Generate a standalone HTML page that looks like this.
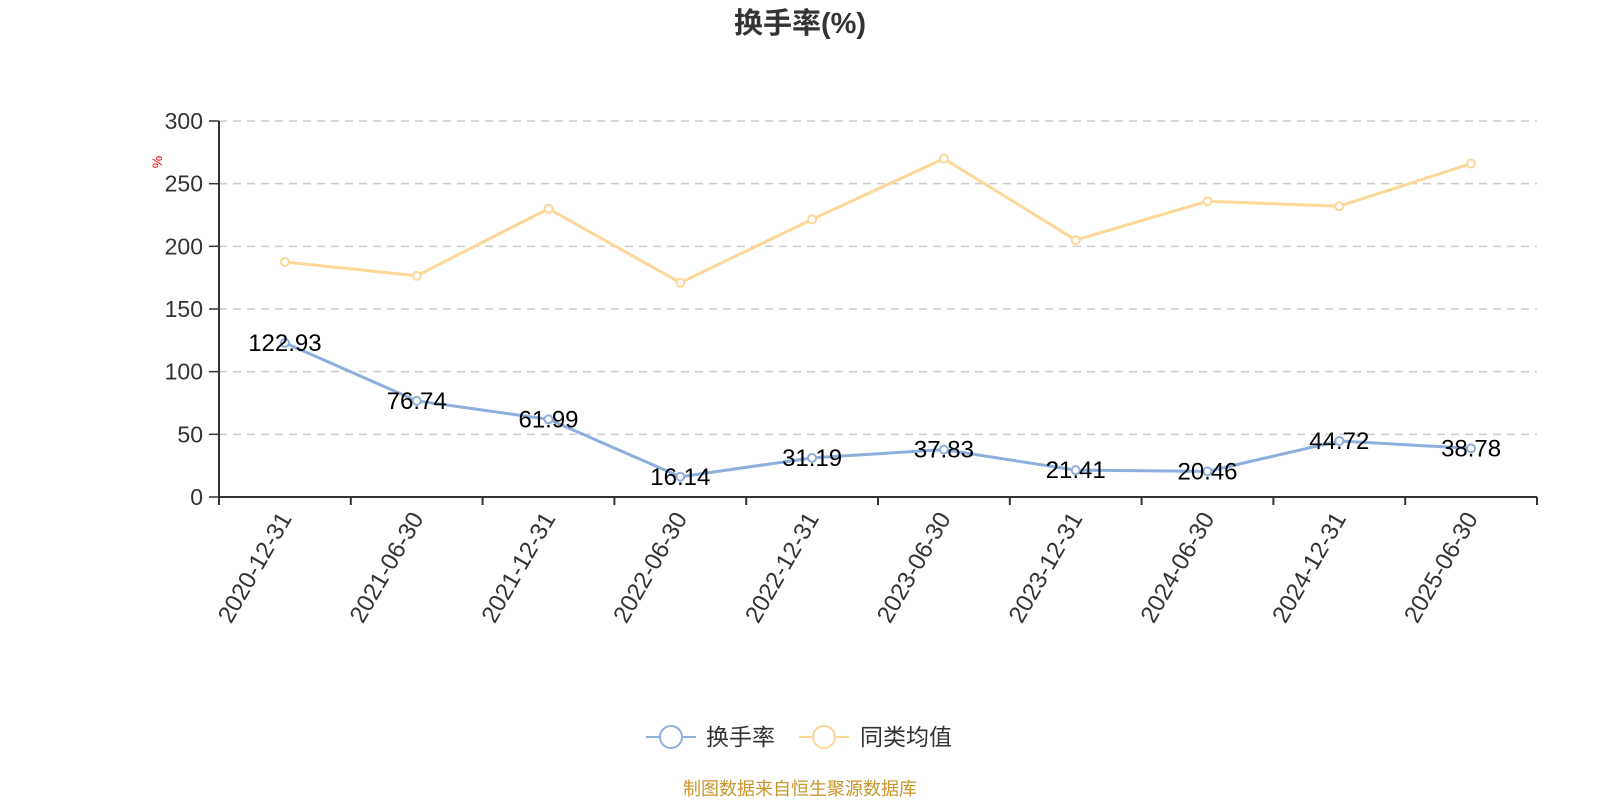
<!DOCTYPE html>
<html><head><meta charset="utf-8">
<style>
html,body{margin:0;padding:0;background:#fff;}
svg{display:block;font-family:"Liberation Sans","Noto Sans CJK SC",sans-serif;}
</style></head>
<body>
<svg id="chart" width="1600" height="800" viewBox="0 0 1600 800">
<text x="800" y="33" text-anchor="middle" font-size="29" font-weight="bold" fill="#333">换手率(%)</text>
<text transform="translate(162,162) rotate(-90)" text-anchor="middle" font-size="14" fill="#ff0000">%</text>
<g id="grid"></g>
<g id="axes"></g>
<g id="series"></g>
<g>
  <g>
    <line x1="646" y1="737" x2="696" y2="737" stroke="#8eaedb" stroke-width="2"/>
    <circle cx="671" cy="737" r="11" fill="#fff" stroke="#8eaedb" stroke-width="2"/>
    <text x="706" y="745" font-size="23" fill="#333">换手率</text>
  </g>
  <g>
    <line x1="799" y1="737" x2="849" y2="737" stroke="#fdd797" stroke-width="2"/>
    <circle cx="824" cy="737" r="11" fill="#fff" stroke="#fdd797" stroke-width="2"/>
    <text x="860" y="745" font-size="23" fill="#333">同类均值</text>
  </g>
</g>
<text x="800" y="795" text-anchor="middle" font-size="18" fill="#c8962a">制图数据来自恒生聚源数据库</text>
</svg>
<script>
const categories = ["2020-12-31","2021-06-30","2021-12-31","2022-06-30","2022-12-31","2023-06-30","2023-12-31","2024-06-30","2024-12-31","2025-06-30"];
const turnover = [122.93,76.74,61.99,16.14,31.19,37.83,21.41,20.46,44.72,38.78];
const peerAvg = [187.5,176.5,230,171,221.5,270,205,236,232,266];
const yTicks = [0,50,100,150,200,250,300];

const NS="http://www.w3.org/2000/svg";
const L=219,R=1537,T=121,B=497,YMAX=300;
const band=(R-L)/categories.length;
const xPos=i=>L+band*(i+0.5);
const yPos=v=>B-(v/YMAX)*(B-T);
function mk(tag,attrs,parent){const e=document.createElementNS(NS,tag);for(const k in attrs)e.setAttribute(k,attrs[k]);parent.appendChild(e);return e;}
const grid=document.getElementById('grid'),axes=document.getElementById('axes'),series=document.getElementById('series');

yTicks.forEach(t=>{
  const y=yPos(t);
  if(t>0){const g=mk('line',{x1:L,x2:R,y1:y,y2:y,stroke:'#ccc','stroke-width':1.5,'stroke-dasharray':'8,6'},grid);
  
  }
  const tk=mk('line',{x1:L-10,x2:L,y1:y,y2:y,stroke:'#333','stroke-width':1.5},axes);
  
  
  const lb=mk('text',{x:L-16,y:y+8,'text-anchor':'end','font-size':23,fill:'#333'},axes);
  lb.textContent=t;
  
  
});
const ya=mk('line',{x1:L,x2:L,y1:T,y2:B,stroke:'#333','stroke-width':2},axes);


const xa=mk('line',{x1:L,x2:R,y1:B,y2:B,stroke:'#333','stroke-width':2},axes);


for(let i=0;i<=categories.length;i++){
  const x=L+band*i;
  const tk=mk('line',{x1:x,x2:x,y1:B,y2:B+8,stroke:'#333','stroke-width':2},axes);
  
  
}
categories.forEach((c,i)=>{
  const x=xPos(i)+2,y=B+18;
  const lb=mk('text',{x:x,y:y,'text-anchor':'end','font-size':24,fill:'#333',transform:`rotate(-60 ${x} ${y})`,'dominant-baseline':'middle'},axes);
  lb.textContent=c;
  
  
});

function drawSeries(vals,color,name,labels){
  const pts=vals.map((v,i)=>xPos(i)+','+yPos(v)).join(' ');
  const pl=mk('polyline',{points:pts,fill:'none',stroke:color,'stroke-width':3,'stroke-linejoin':'round'},series);
  
  
  vals.forEach((v,i)=>{
    const c=mk('circle',{cx:xPos(i),cy:yPos(v),r:4,fill:'#fff',stroke:color,'stroke-width':2},series);
    
    
  });
  if(labels){vals.forEach((v,i)=>{
    const t=mk('text',{x:xPos(i),y:yPos(v)+8,'text-anchor':'middle','font-size':24,fill:'#000'},series);
    t.textContent=v.toFixed(2);
    
    
  });}
}
drawSeries(peerAvg,'#fdd797','peer-average',false);
drawSeries(turnover,'#8eaedb','turnover',true);
</script>
</body></html>
